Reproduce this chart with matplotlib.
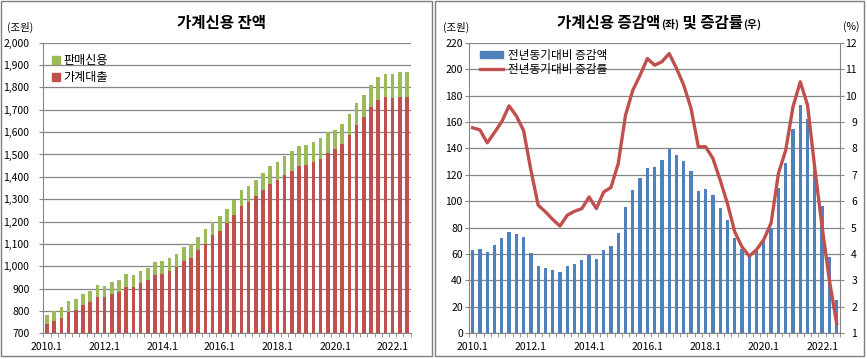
import numpy as np
import matplotlib
matplotlib.use('Agg')
import matplotlib.pyplot as plt
from matplotlib.patches import Rectangle, Patch
from matplotlib.lines import Line2D
from matplotlib.ticker import FuncFormatter

plt.rcParams['font.family'] = ['Noto Sans CJK KR', 'DejaVu Sans']

# quarters 2010.1 ~ 2022.3
quarters = [f'{y}.{q}' for y in range(2010, 2023) for q in range(1, 5)][:51]
tick_pos = list(range(0, 51, 8))
tick_labels = [quarters[i] for i in tick_pos]

# 가계신용 잔액 (조원)
loans = [743, 757, 770, 797, 806, 827, 840, 864, 864, 876, 885, 907, 907, 925, 939, 961,
         966, 978, 997, 1022, 1035, 1071, 1098, 1138, 1156, 1192, 1228, 1268, 1286, 1313,
         1339, 1366, 1384, 1406, 1424, 1448, 1452, 1466, 1479, 1506, 1524, 1546, 1587, 1631,
         1667, 1712, 1743, 1756, 1753, 1757, 1757]
sales_credit = [39, 43, 49, 49, 49, 51, 50, 54, 49, 54, 55, 57, 54, 54, 52, 58,
                58, 58, 56, 62, 63, 58, 67, 61, 67, 62, 68, 71, 71, 71,
                76, 81, 81, 85, 90, 89, 90, 89, 94, 94, 85, 90, 94, 99,
                99, 98, 103, 106, 106, 112, 114]

# 전년동기대비 증감액 (조원), 증감률 (%)
yoy_amount = [63, 64, 61.5, 67, 72, 76.6, 75, 73, 60.7, 51, 49.4, 48, 46.5, 51, 52.5, 55.5,
              59.3, 56.2, 63, 66, 76, 95.7, 108.5, 117.4, 125.3, 126, 131.3, 139.6, 134.8, 130.3,
              122.7, 107.6, 109.1, 104.5, 95, 85.6, 72.2, 64.1, 58.5, 62.4, 70, 80, 110, 129,
              154.5, 173, 162.4, 124.7, 96.5, 57.8, 25]
yoy_rate = [8.78, 8.70, 8.21, 8.60, 9.01, 9.61, 9.23, 8.67, 7.18, 5.85, 5.60, 5.31, 5.06, 5.47,
            5.62, 5.72, 6.16, 5.72, 6.35, 6.52, 7.43, 9.26, 10.2, 10.77, 11.40, 11.15, 11.28,
            11.59, 11.03, 10.39, 9.51, 8.06, 8.06, 7.62, 6.80, 5.91, 4.84, 4.27, 3.92, 4.17,
            4.55, 5.18, 7.05, 7.93, 9.57, 10.52, 9.64, 7.24, 5.03, 3.01, 1.37]

RED = '#C0504D'
GREEN = '#9BBB59'
BLUE = '#4F81BD'
GRID = '#868686'
W, H = 867, 359

fig = plt.figure(figsize=(W / 100, H / 100), dpi=100)


def px_rect(x0, y0, x1, y1):
    # pixel box (top-left origin) -> figure fraction [l, b, w, h]
    return [x0 / W, 1 - y1 / H, (x1 - x0) / W, (y1 - y0) / H]


# panel borders
for x0, x1 in [(1, 432), (435, 864)]:
    l, b, w, h = px_rect(x0, 1, x1, 356)
    fig.add_artist(Rectangle((l, b), w, h, transform=fig.transFigure,
                             fill=False, ec='#7f7f7f', lw=1.0))


def style_x(ax):
    ax.set_xlim(-0.5, 50.5)
    ax.set_xticks(tick_pos)
    ax.set_xticklabels(tick_labels)
    ax.set_xticks(np.arange(-0.5, 51, 1), minor=True)
    ax.tick_params(axis='x', which='major', length=0, pad=6, labelsize=7.5)
    ax.tick_params(axis='x', which='minor', length=3, color=GRID, direction='out')
    for s in ['top', 'right']:
        ax.spines[s].set_visible(False)
    ax.spines['left'].set_color(GRID)
    ax.spines['bottom'].set_color(GRID)
    ax.grid(axis='y', color=GRID, lw=0.9)
    ax.set_axisbelow(True)


x = np.arange(len(quarters))

# ---- left: 가계신용 잔액
ax1 = fig.add_axes(px_rect(43.3, 42.7, 410.7, 333.3))
ax1.bar(x, loans, width=0.5, color=RED)
ax1.bar(x, sales_credit, width=0.5, bottom=loans, color=GREEN)
ax1.set_ylim(700, 2000)
ax1.set_yticks(range(700, 2001, 100))
ax1.yaxis.set_major_formatter(FuncFormatter(lambda v, p: f'{int(v):,}'))
ax1.tick_params(axis='y', length=3, color=GRID, pad=7, labelsize=7.5)
style_x(ax1)
ax1.legend(handles=[Patch(color=GREEN, label='판매신용'), Patch(color=RED, label='가계대출')],
           loc='upper left', bbox_to_anchor=(0.025, 0.96), frameon=False, fontsize=8.7,
           handlelength=0.6, handleheight=0.6, handletextpad=0.3, labelspacing=0.3,
           borderpad=0, borderaxespad=0)
fig.text(7 / W, 1 - 27 / H, '(조원)', fontsize=7.5, va='center')
fig.text(222 / W, 1 - 28 / H, '가계신용 잔액', fontsize=11.2, fontweight='bold',
         ha='center', va='baseline')

# ---- right: 증감액 및 증감률
ax2 = fig.add_axes(px_rect(469, 42.7, 840.3, 333.3))
ax2.bar(x, yoy_amount, width=0.45, color=BLUE)
ax2.set_ylim(0, 220)
ax2.set_yticks(range(0, 221, 20))
ax2.tick_params(axis='y', length=3, color=GRID, pad=1.5, labelsize=7.5)
style_x(ax2)

ax3 = ax2.twinx()
ax3.plot(x, yoy_rate, color=RED, lw=2.4)
ax3.set_ylim(1, 12)
ax3.set_yticks(range(1, 13))
ax3.tick_params(axis='y', length=3, color=GRID, pad=9, labelsize=7.5)
for lab in ax3.get_yticklabels():
    lab.set_horizontalalignment('right')
for s in ['top', 'left', 'bottom']:
    ax3.spines[s].set_visible(False)
ax3.spines['right'].set_color(GRID)

ax3.legend(handles=[Patch(color=BLUE, label='전년동기대비 증감액'),
                    Line2D([], [], color=RED, lw=2.4, label='전년동기대비 증감률')],
           loc='upper left', bbox_to_anchor=(0.03, 0.98), frameon=False, fontsize=8.4,
           handlelength=2.0, handleheight=0.6, handletextpad=0.4, labelspacing=0.12,
           borderpad=0, borderaxespad=0)
fig.text(443 / W, 1 - 27 / H, '(조원)', fontsize=7.5, va='center')
fig.text(843 / W, 1 - 27 / H, '(%)', fontsize=7.5, va='center')

# mixed-size title
pieces = [('가계신용 증감액', 11.2), ('(좌)', 7.8), (' 및 증감률', 11.2), ('(우)', 7.8)]
renderer = fig.canvas.get_renderer()
texts = [fig.text(0, 1 - 28 / H, s, fontsize=fs, fontweight='bold', va='baseline')
         for s, fs in pieces]
widths = [t.get_window_extent(renderer).width for t in texts]
xpos = 659 - sum(widths) / 2
for t, w in zip(texts, widths):
    t.set_x(xpos / W)
    xpos += w

fig.savefig('out.png', dpi=100)
